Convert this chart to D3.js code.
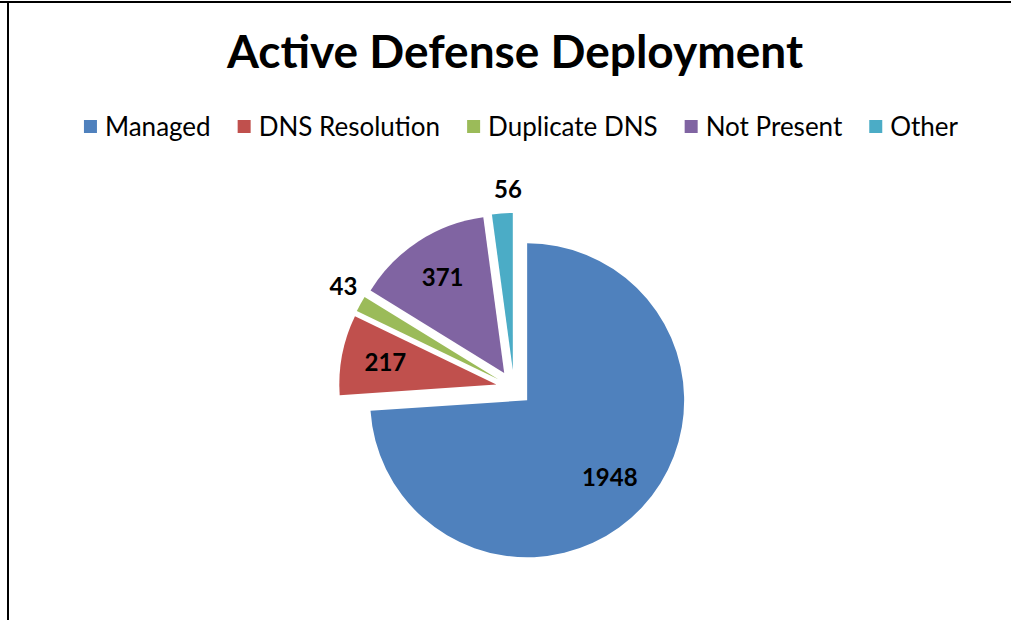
<!DOCTYPE html>
<html>
<head>
<meta charset="utf-8">
<script src="https://cdn.jsdelivr.net/npm/d3@7"></script>
<style>
  body { margin: 0; background: #fff; }
  svg { display: block; font-family: Lato, "Open Sans", sans-serif; }
</style>
</head>
<body>
<div id="chart"></div>
<script>
// chart data
const categories = ['Managed', 'DNS Resolution', 'Duplicate DNS', 'Not Present', 'Other'];
const counts = [1948, 217, 43, 371, 56];
const colors = ['#4f81bd', '#c0504d', '#9bbb59', '#8064a2', '#4bacc6'];
const title = 'Active Defense Deployment';

const W = 1011, H = 620;
const pieC = { x: 514, y: 388 };
const R = 157;
const explode = 18;

const svg = d3.select('#chart').append('svg')
	.attr('width', W)
	.attr('height', H);

svg.append('rect').attr('width', W).attr('height', H).attr('fill', '#fff');

// frame (top + left only visible)
svg.append('rect').attr('x', 0).attr('y', 1).attr('width', W).attr('height', 2).attr('fill', '#000');
svg.append('rect').attr('x', 7).attr('y', 1).attr('width', 2).attr('height', H).attr('fill', '#000');

svg.append('text')
	.attr('x', 515)
	.attr('y', 68)
	.attr('text-anchor', 'middle')
	.attr('font-size', 46)
	.attr('font-weight', 'bold')
	.attr('fill', '#000')
	.text(title);

// legend
const legend = svg.append('g');
const legItems = legend.selectAll('g').data(categories).enter().append('g');
legItems.append('rect')
	.attr('width', 13).attr('height', 13)
	.attr('y', -16)
	.attr('fill', (d, i) => colors[i]);
legItems.append('text')
	.attr('x', 21)
	.attr('font-size', 26)
	.attr('fill', '#000')
	.text(d => d);

let lx = 0;
legItems.each(function() {
	const g = d3.select(this);
	const tw = g.select('text').node().getComputedTextLength();
	g.attr('transform', 'translate(' + lx + ',0)');
	lx += 21 + tw + 27;
});
lx -= 27;
legend.attr('transform', 'translate(' + (521 - lx / 2) + ',136)');

// pie
const pie = d3.pie().sort(null).value(d => d);
const arcs = pie(counts);
const total = d3.sum(counts);
const arc = d3.arc().innerRadius(0).outerRadius(R);

const dir = a => [Math.sin(a), -Math.cos(a)];

const slices = svg.append('g').attr('transform', 'translate(' + pieC.x + ',' + pieC.y + ')');

const sliceG = slices.selectAll('g').data(arcs).enter().append('g')
	.attr('transform', d => {
		const m = dir((d.startAngle + d.endAngle) / 2);
		return 'translate(' + (m[0] * explode) + ',' + (m[1] * explode) + ')';
	});

sliceG.append('path')
	.attr('d', arc)
	.attr('fill', (d, i) => colors[i]);

sliceG.append('text')
	.attr('text-anchor', 'middle')
	.attr('dy', '0.35em')
	.attr('font-size', 24)
	.attr('font-weight', 'bold')
	.attr('fill', '#000')
	.attr('transform', d => {
		const m = dir((d.startAngle + d.endAngle) / 2 + (d.value / total < 0.03 ? 0.04 : 0));
		const k = d.value / total < 0.03 ? 1.15 : 0.72;
		return 'translate(' + (m[0] * R * k) + ',' + (m[1] * R * k) + ')';
	})
	.text(d => d.value);
</script>
</body>
</html>
